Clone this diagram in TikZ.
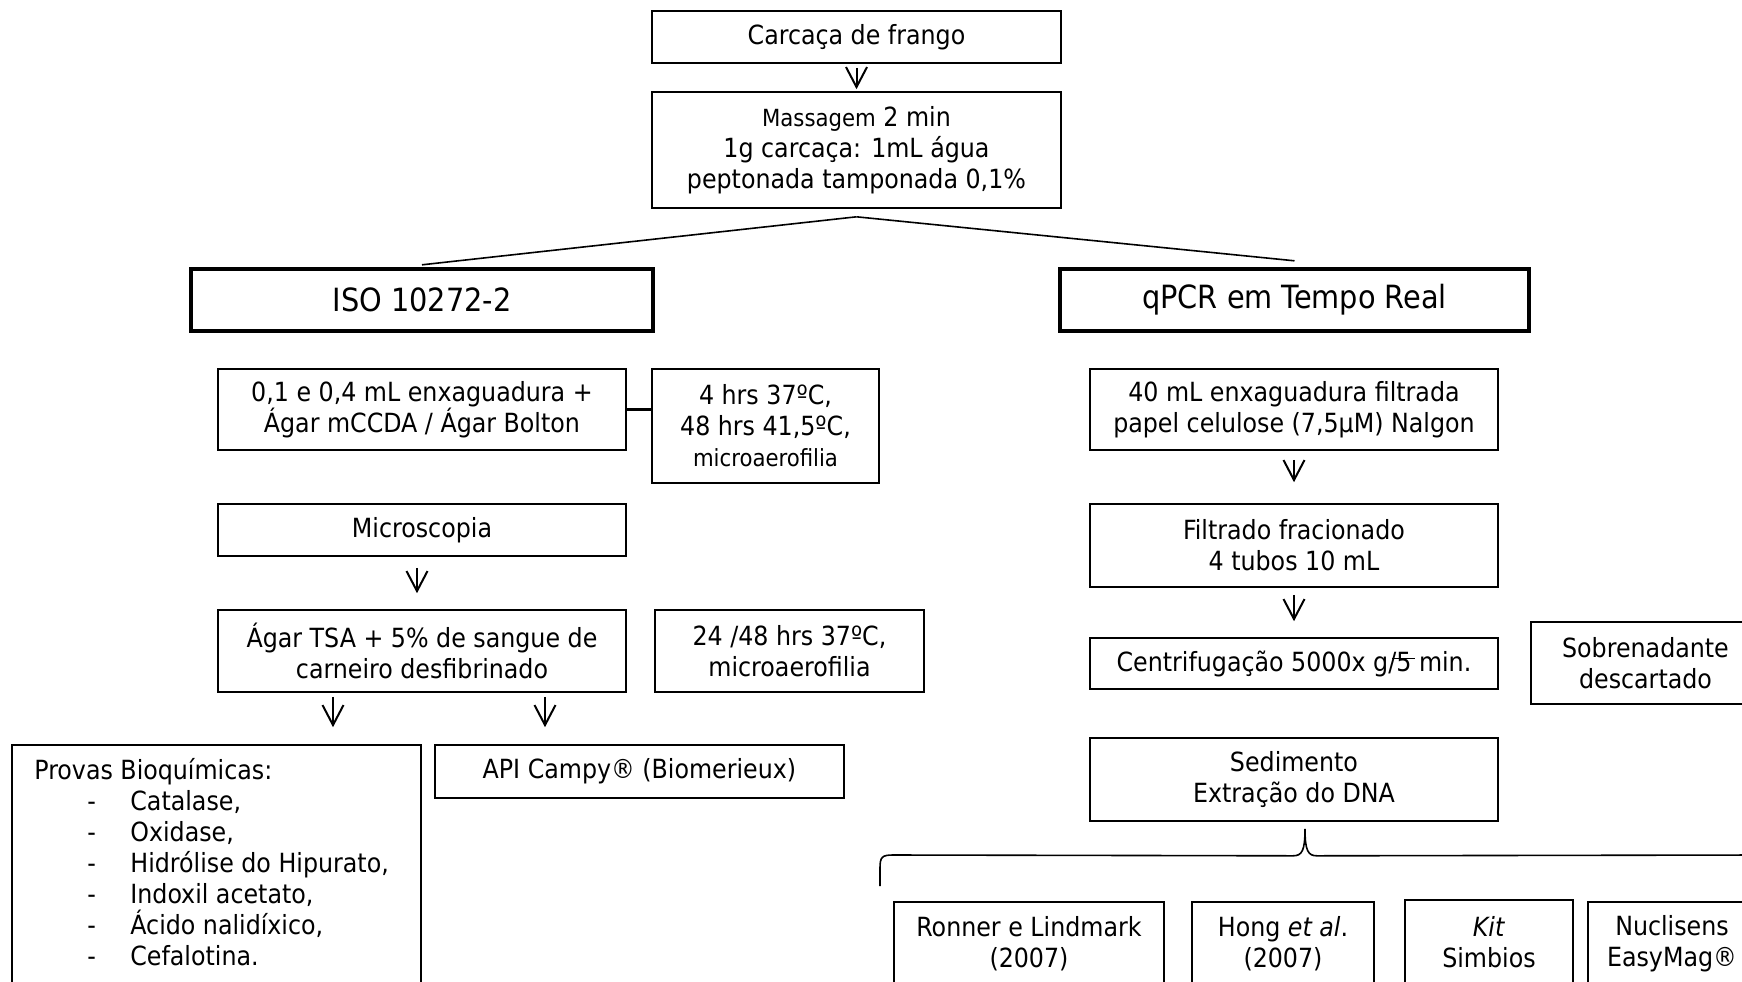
\documentclass[tikz,border=0pt]{standalone}
\usepackage{fontspec}
\setmainfont{DejaVu Sans Condensed}[ItalicFont={DejaVu Sans Condensed Oblique}]
\usetikzlibrary{arrows.meta,calc}
\newcommand\fsn{\fontsize{13.2}{15.5}\selectfont}
\newcommand\fss{\fontsize{11.8}{15.5}\selectfont}
\newcommand\fsb{\fontsize{16}{19}\selectfont}
\begin{document}
\begin{tikzpicture}[x=0.5pt,y=-0.5pt,
  box/.style={draw,line width=0.8pt,align=center,inner sep=0pt,font=\fsn},
  bigbox/.style={draw,line width=2.2pt,align=center,inner sep=0pt,font=\fsb},
  arr/.style={line width=1pt,-{Straight Barb[length=10pt,width=10.5pt,line width=1pt]}},
  ln/.style={line width=0.8pt},
  item/.style={anchor=base west,inner sep=0pt,font=\fsn}]
\useasboundingbox (0,0) rectangle (1742,981);
\clip (0,0) rectangle (1742,981);

% top
\node[box,minimum width=204.5pt,minimum height=26pt] (carc) at (856.5,37) {Carcaça de frango};
\node[box,minimum width=204.5pt,minimum height=58pt] (mass) at (856.5,150) {{\fss Massagem} 2 min\\1g carcaça: 1mL água\\peptonada tamponada 0,1\%};
\draw[arr,shorten <=2pt,shorten >=1pt] (carc) -- (mass);

% main branches
\node[bigbox,minimum width=231pt,minimum height=31pt] (iso) at (422,300) {ISO 10272-2};
\node[bigbox,minimum width=234.5pt,minimum height=31pt] (qpcr) at (1294.5,300) {qPCR em Tempo Real};
\coordinate (split) at ($(mass.south)+(0,8)$);
\draw[ln] (split) -- ($(iso.north)+(0,-2)$);
\draw[ln] (split) -- ($(qpcr.north)+(0,-6)$);

% left column
\node[box,minimum width=204pt,minimum height=40.5pt] (b01) at (422,409.5) {0,1 e 0,4 mL enxaguadura +\\Ágar mCCDA / Ágar Bolton};
\node[box,minimum width=113.5pt,minimum height=57pt] (hrs) at (765.5,426) {4 hrs 37ºC,\\48 hrs 41,5ºC,\\{\fss microaerofilia}};
\draw[line width=1.2pt] (b01.east) -- (b01.east -| hrs.west);
\node[box,minimum width=204pt,minimum height=26pt] (micro) at (422,530) {Microscopia};
\node[box,minimum width=204pt,minimum height=41pt] (tsa) at (422,651) {Ágar TSA + 5\% de sangue de\\carneiro desfibrinado};
\draw[arr,shorten <=5.5pt,shorten >=8pt] ($(micro.south)+(-5,0)$) -- ($(tsa.north)+(-5,0)$);
\node[box,minimum width=134.5pt,minimum height=41pt] (h2448) at (789.5,651) {24 /48 hrs 37ºC,\\microaerofilia};

\node[box,minimum width=204.5pt,minimum height=140pt] (prov) at (216.5,885) {};
\node[box,minimum width=204.5pt,minimum height=26.5pt] (api) at (639.5,771.5) {API Campy® (Biomerieux)};
\draw[arr] ($(tsa.south)+(-89,4)$) -- ($(prov.north)+(116.5,-17)$);
\draw[arr] ($(tsa.south)+(123,4)$) -- ($(api.north)+(-94.5,-17)$);

\node[item] (p0) at (34,779) {Provas Bioquímicas:};
\foreach \t [count=\i] in {{Catalase,},{Oxidase,},{Hidrólise do Hipurato,},{Indoxil acetato,},{Ácido nalidíxico,},{Cefalotina.}}{
  \node[item] (pd\i) at (87,{779+31*\i}) {-};
  \node[item] (pt\i) at (130,{779+31*\i}) {\t};
}

% right column
\node[box,minimum width=204pt,minimum height=40.5pt] (f40) at (1294,409.5) {40 mL enxaguadura filtrada\\papel celulose (7,5µM) Nalgon};
\node[box,minimum width=204pt,minimum height=41.5pt] (fil) at (1294,545.5) {Filtrado fracionado\\4 tubos 10 mL};
\node[box,minimum width=204pt,minimum height=25.5pt] (cen) at (1294,663.5) {Centrifugação 5000x g\makebox[0pt][l]{\hspace{0.15em}\rule[0.45em]{0.85em}{0.06em}}/5 min.};
\node[box,minimum width=114.5pt,minimum height=41pt] (sob) at (1645.5,663) {Sobrenadante\\descartado};
\node[box,minimum width=204pt,minimum height=41.5pt] (sed) at (1294,779.5) {Sedimento\\Extração do DNA};
\draw[arr,shorten <=4.5pt,shorten >=10.5pt] (f40) -- (fil);
\draw[arr,shorten <=3.5pt,shorten >=8pt] (fil) -- (cen);

% brace
\coordinate (tip) at ($(sed.south)+(11,7)$);
\coordinate (bl) at (880,886);
\coordinate (br) at (1760,855);
\draw[ln] (bl) -- (880,868) .. controls (880,857) and (882,855) .. (893,855)
  -- ($(tip)+(-12,27)$) .. controls ($(tip)+(-3,27)$) and ($(tip)+(0,22)$) .. (tip)
  .. controls ($(tip)+(0,22)$) and ($(tip)+(3,27)$) .. ($(tip)+(12,27)$) -- (br);

% bottom row
\node[box,minimum width=135pt,minimum height=41.5pt] (ron) at (1029,943.5) {Ronner e Lindmark\\(2007)};
\node[box,minimum width=91pt,minimum height=41.5pt] (hong) at (1283,943.5) {Hong \textit{et al}.\\(2007)};
\node[box,minimum width=84pt,minimum height=42.5pt] (kit) at (1489,942.5) {\textit{Kit}\\Simbios};
\node[box,minimum width=84pt,minimum height=41.5pt] (nuc) at (1672,943.5) {Nuclisens\\EasyMag®};
\end{tikzpicture}
\end{document}
